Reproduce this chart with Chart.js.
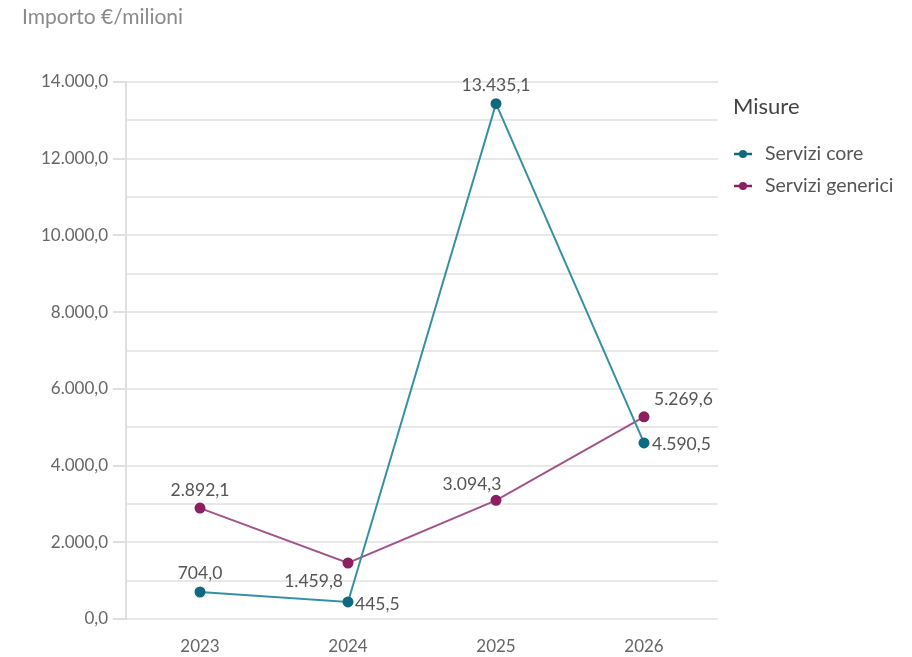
<!DOCTYPE html>
<html>
<head>
<meta charset="utf-8">
<script src="https://cdn.jsdelivr.net/npm/chart.js@4/dist/chart.umd.min.js"></script>
<style>
  html, body { margin: 0; padding: 0; background: #fff; }
  #wrap { width: 912px; height: 657px; position: relative; }
</style>
</head>
<body>
<div id="wrap"><canvas id="chart" width="912" height="657"></canvas></div>
<script>
// dati
const anni = ["2023", "2024", "2025", "2026"];
const serviziCore = [704.0, 445.5, 13435.1, 4590.5];
const serviziGenerici = [2892.1, 1459.8, 3094.3, 5269.6];
const yMax = 14000;
const yStep = 1000;

const FONT = "Lato, 'Open Sans', sans-serif";

// posizione delle etichette per punto: [dx, dy, allineamento]
const posCore = [[0, -19, "center"], [7, 2, "left"], [0, -18, "center"], [8, 1, "left"]];
const posGenerici = [[0, -18, "center"], [-5, 18, "right"], [-24, -16, "center"], [10, -18, "left"]];

function fmt(v) {
  const parts = v.toFixed(1).split(".");
  const intPart = parts[0].replace(/\B(?=(\d{3})+(?!\d))/g, ".");
  return intPart + "," + parts[1];
}

const etichette = {
  id: "etichette",
  afterDatasetsDraw(chart) {
    const ctx = chart.ctx;
    ctx.save();
    ctx.font = "17.5px " + FONT;
    ctx.fillStyle = "#555";
    ctx.textBaseline = "middle";
    chart.data.datasets.forEach((ds, i) => {
      const meta = chart.getDatasetMeta(i);
      const pos = ds.labelPos;
      meta.data.forEach((pt, j) => {
        const p = pos[j];
        ctx.textAlign = p[2];
        ctx.fillText(fmt(ds.data[j]), pt.x + p[0], pt.y + p[1]);
      });
    });
    ctx.restore();
  },
  afterDraw(chart) {
    const ctx = chart.ctx;
    ctx.save();
    // titolo asse
    ctx.font = "21px " + FONT;
    ctx.fillStyle = "#8a8a8a";
    ctx.textAlign = "left";
    ctx.textBaseline = "middle";
    ctx.fillText("Importo €/milioni", 22, 17);
    // legenda
    ctx.font = "22px " + FONT;
    ctx.fillStyle = "#444";
    ctx.fillText("Misure", 733, 107);
    ctx.font = "19.5px " + FONT;
    chart.data.datasets.forEach((ds, i) => {
      const y = 154 + i * 32;
      ctx.strokeStyle = ds.pointBackgroundColor;
      ctx.lineWidth = 2.5;
      ctx.beginPath();
      ctx.moveTo(734, y);
      ctx.lineTo(752, y);
      ctx.stroke();
      ctx.fillStyle = ds.pointBackgroundColor;
      ctx.beginPath();
      ctx.arc(743, y, 4, 0, Math.PI * 2);
      ctx.fill();
      ctx.fillStyle = "#555";
      ctx.fillText(ds.label, 765, y);
    });
    ctx.restore();
  }
};

new Chart(document.getElementById("chart"), {
  type: "line",
  data: {
    labels: anni,
    datasets: [
      {
        label: "Servizi core",
        data: serviziCore,
        borderColor: "#3590a4",
        backgroundColor: "#0f6a80",
        pointBackgroundColor: "#0f6a80",
        pointBorderColor: "#0f6a80",
        pointRadius: 4.5,
        borderWidth: 2,
        tension: 0,
        labelPos: posCore
      },
      {
        label: "Servizi generici",
        data: serviziGenerici,
        borderColor: "#a2538a",
        backgroundColor: "#8c1f62",
        pointBackgroundColor: "#8c1f62",
        pointBorderColor: "#8c1f62",
        pointRadius: 4.5,
        borderWidth: 2,
        tension: 0,
        labelPos: posGenerici
      }
    ]
  },
  options: {
    responsive: false,
    animation: false,
    layout: { padding: { top: 82, right: 194, left: 0, bottom: 0 } },
    scales: {
      x: {
        offset: true,
        grid: { display: false, drawTicks: false },
        border: { display: false },
        ticks: { color: "#666", font: { family: FONT, size: 17 }, padding: 17 },
        afterFit: (s) => { s.height = 38; }
      },
      y: {
        min: 0,
        max: yMax,
        ticks: {
          stepSize: yStep,
          autoSkip: false,
          color: "#666",
          font: { family: FONT, size: 17 },
          padding: 5,
          callback: (v) => (v % 2000 === 0 ? fmt(v) : "")
        },
        grid: {
          color: "#e8e8e8",
          lineWidth: 2,
          tickLength: 13,
          tickColor: (c) => (c.tick && c.tick.value % 2000 === 0 ? "#e0e0e0" : "rgba(0,0,0,0)")
        },
        border: { display: true, color: "#e0e0e0", width: 2 },
        afterFit: (s) => { s.width = 126; }
      }
    },
    plugins: {
      legend: { display: false },
      tooltip: { enabled: false }
    }
  },
  plugins: [etichette]
});
</script>
</body>
</html>
